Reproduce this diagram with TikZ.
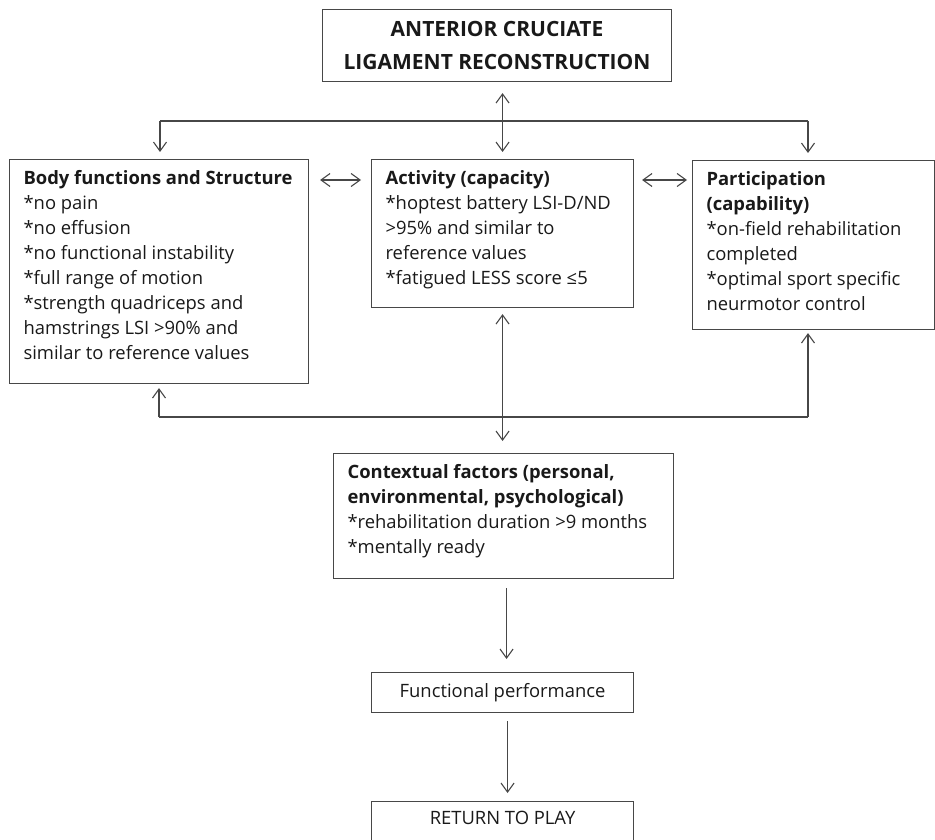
\documentclass[tikz,border=0pt]{standalone}
\usepackage{fontspec}
\setmainfont{Open Sans}
\usepackage{tikz}
\usetikzlibrary{arrows.meta, calc}
\newcommand{\boxtext}[3]{\parbox[t][#2][t]{#1}{#3}}

\begin{document}
\begin{tikzpicture}[
  x=1pt, y=-1pt,
  black!72, line width=1.1pt,
  >={Straight Barb[length=9pt,width=13pt]},
  box/.style={draw, anchor=north west, inner xsep=14pt, inner ysep=11pt, align=left, text=black!90, font=\fontsize{18.4}{25}\selectfont},
  endbox/.style={draw, anchor=north west, minimum width=262pt, text=black!90, font=\fontsize{18.4}{25}\selectfont}
]
\useasboundingbox (0,0) rectangle (935,840);
% title and the three ICF domains
\node[draw, anchor=north west, minimum width=349pt, minimum height=72pt, align=center, text=black!90, font=\fontsize{21}{33}\selectfont\bfseries] (title) at (322,9) {ANTERIOR CRUCIATE\\LIGAMENT RECONSTRUCTION};
\node[box] (body) at (9,159) {\boxtext{271pt}{202pt}{\textbf{Body functions and Structure}\\{}*no pain\\{}*no effusion\\{}*no functional instability\\{}*full range of motion\\{}*strength quadriceps and\\hamstrings LSI >90\% and\\similar to reference values}};
\node[box] (act) at (371,159) {\boxtext{234pt}{126pt}{\textbf{Activity (capacity)}\\{}*hoptest battery LSI-D/ND\\>95\% and similar to\\reference values\\{}*fatigued LESS score ≤5}};
\node[box] (part) at (692,160) {\boxtext{214pt}{147pt}{\textbf{Participation}\\\textbf{(capability)}\\{}*on-field rehabilitation\\completed\\{}*optimal sport specific\\neurmotor control}};
% context and outcome chain
\node[box] (ctx) at (333,453) {\boxtext{312pt}{103pt}{\textbf{Contextual factors (personal,}\\\textbf{environmental, psychological)}\\{}*rehabilitation duration >9 months\\{}*mentally ready}};
\node[endbox, minimum height=40pt] (func) at (371,672) {Functional performance};
\node[endbox, minimum height=46pt, text depth=14pt] (rtp) at (371,801) {RETURN TO PLAY};
% split line below the title
\coordinate (topL) at (160,121);
\coordinate (topR) at (808,121);
\draw (topL) -- (topR);
\draw[->, shorten >=7pt] (topL) -- (topL |- body.north);
\draw[->, shorten >=7pt] (topR) -- (topR |- part.north);
\draw[<->, shorten <=11pt, shorten >=7pt] (title.south -| act.north) -- (act.north);
% links between the domains
\draw[<->] ([xshift=11pt,yshift=-21pt]body.north east) -- ([xshift=-10pt,yshift=-21pt]act.north west);
\draw[<->] ([xshift=8pt,yshift=-21pt]act.north east) -- ([xshift=-5pt,yshift=-20pt]part.north west);
% feedback line under the domains
\coordinate (botL) at (159,417);
\coordinate (botR) at (808,417);
\draw (botL) -- (botR);
\draw[->, shorten >=4pt] (botL) -- (botL |- body.south);
\draw[->, shorten >=3pt] (botR) -- (botR |- part.south);
\draw[<->, shorten <=6pt, shorten >=12pt] (act.south) -- (act.south |- ctx.north);
% down to return to play
\draw[->, shorten <=9pt, shorten >=13pt] ([xshift=3pt]ctx.south) -- ([xshift=3pt]ctx.south |- func.north);
\draw[->, shorten <=8pt, shorten >=8pt] ([xshift=5pt]func.south) -- ([xshift=5pt]func.south |- rtp.north);
\end{tikzpicture}
\end{document}
